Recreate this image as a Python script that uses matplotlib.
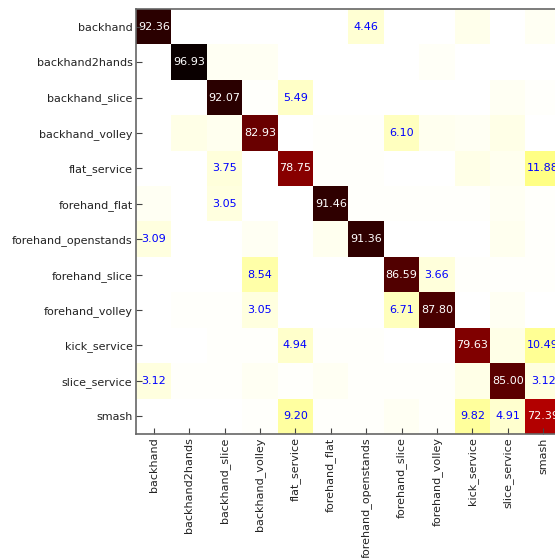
import numpy as np
import matplotlib
matplotlib.use("Agg")
from matplotlib import pyplot as plt

classes = ["backhand", "backhand2hands", "backhand_slice", "backhand_volley",
           "flat_service", "forehand_flat", "forehand_openstands",
           "forehand_slice", "forehand_volley", "kick_service",
           "slice_service", "smash"]

# row-normalised confusion matrix in percent (faint cells estimated)
backhand            = [92.36, 0, 0, 0, 0, 0, 4.46, 0, 0, 1.91, 0, 1.27]
backhand2hands      = [0, 96.93, 1.15, 1.15, 0, 0, 0, 0, 0.77, 0, 0, 0]
backhand_slice      = [0, 0, 92.07, 0.61, 5.49, 0, 0, 0, 0, 0, 1.22, 0.61]
backhand_volley     = [0, 2.44, 1.83, 82.93, 0, 0.61, 0.61, 6.10, 1.83, 1.22, 2.44, 0]
flat_service        = [0, 0, 3.75, 0, 78.75, 0.62, 0.62, 0, 0, 2.50, 1.88, 11.88]
forehand_flat       = [1.22, 0, 3.05, 0, 0, 91.46, 0.61, 0.61, 0.61, 0.61, 1.22, 0.61]
forehand_openstands = [3.09, 0, 0, 1.23, 0, 1.85, 91.36, 0, 0, 0, 1.85, 0.62]
forehand_slice      = [0, 0, 0, 8.54, 0, 0, 0, 86.59, 3.66, 0.40, 0.40, 0.41]
forehand_volley     = [0, 0.61, 0.61, 3.05, 0, 0, 0, 6.71, 87.80, 0, 1.22, 0]
kick_service        = [0, 0, 0.62, 0.62, 4.94, 0.62, 0.62, 0, 0, 79.63, 2.46, 10.49]
slice_service       = [3.12, 0.63, 0.63, 1.25, 0.63, 1.25, 0.63, 0.63, 0.63, 2.50, 85.00, 3.12]
smash               = [0, 0, 0, 0.62, 9.20, 0.61, 0.61, 1.23, 0.61, 9.82, 4.91, 72.39]

cm = np.array([backhand, backhand2hands, backhand_slice, backhand_volley,
               flat_service, forehand_flat, forehand_openstands,
               forehand_slice, forehand_volley, kick_service,
               slice_service, smash])

fig = plt.figure(figsize=(5.55, 5.58), dpi=100)
ax = fig.add_axes([136 / 555, 124 / 558, 424.8 / 555, 425 / 558])

ax.imshow(cm, cmap="hot_r", interpolation="nearest", aspect="auto")

n = len(classes)
for i in range(n):
    for j in range(n):
        v = cm[i, j]
        if v < 3:
            continue
        color = "white" if i == j else "blue"
        ax.text(j, i, "%.2f" % v, ha="center", va="center",
                color=color, fontsize=8)

ax.set_xticks(range(n))
ax.set_yticks(range(n))
ax.set_xticklabels(classes, rotation=90, fontsize=8, color="#222222")
ax.set_yticklabels(classes, fontsize=8, color="#222222")
ax.tick_params(direction="in", length=4, width=0.8, color="#444444",
               top=False, right=False, pad=2.5)
for s in ax.spines.values():
    s.set_color("#666666")
    s.set_linewidth(1.2)

fig.savefig("out.png", dpi=100)
